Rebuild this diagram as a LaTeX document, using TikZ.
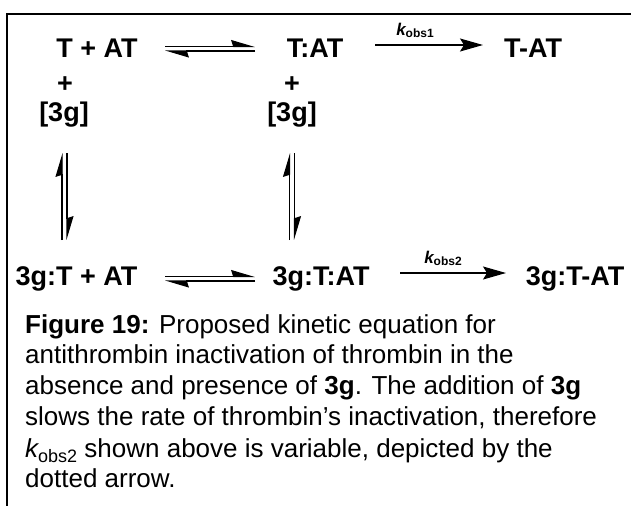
\documentclass[tikz,border=0pt]{standalone}
\usepackage{fontspec}
\setmainfont{Liberation Sans}
\usetikzlibrary{arrows.meta}
\begin{document}
\begin{tikzpicture}[x=1pt,y=-1pt,
  chem/.style={font=\fontsize{27}{32}\selectfont\bfseries, inner sep=0pt, anchor=base},
  capline/.style={font=\fontsize{26}{31}\selectfont, inner sep=0pt, anchor=base west},
  klab/.style={inner sep=0pt, anchor=base},
  eqline/.style={line width=1.1pt, -{Stealth[harpoon,length=22pt,width=13pt,inset=2pt]}},
  fwd/.style={line width=1.1pt, -{Stealth[length=23pt,width=13pt,inset=4pt]}},
  frameline/.style={line width=1.5pt}]
\useasboundingbox (0,0) rectangle (631,506);
\fill[white] (0,0) rectangle (631,506);
% frame
\coordinate (fr1) at (631,14);
\coordinate (fr2) at (7,14);
\coordinate (fr3) at (7,506);
\draw[frameline] (fr1) -- (fr2) -- (fr3);
% row 1
\node[chem] (tpa) at (97,57) {T + AT};
\node[chem] (tat) at (315,57) {T:AT};
\node[chem] (tdat) at (533,57) {T-AT};
\node[chem] (p1) at (65,92) {+};
\node[chem] (g1) at (64,121) {[3g]};
\node[chem] (p2) at (292,92) {+};
\node[chem] (g2) at (292,121) {[3g]};
% row 4
\node[chem] (gtpa) at (76.5,285) {3g:T + AT};
\node[chem] (gtat) at (321,285) {3g:T:AT};
\node[chem] (gtdat) at (575,285) {3g:T-AT};
% labels
\node[klab] (k1) at (415,35) {{\fontsize{17}{17}\selectfont\bfseries\itshape k}\raisebox{-2.5pt}{\fontsize{12}{12}\selectfont\bfseries obs1}};
\node[klab] (k2) at (443,263) {{\fontsize{17}{17}\selectfont\bfseries\itshape k}\raisebox{-2.5pt}{\fontsize{12}{12}\selectfont\bfseries obs2}};
% equilibrium row 1
\coordinate (e1tl) at (165,46.5); \coordinate (e1tr) at (255,46.5);
\coordinate (e1bl) at (165,51);   \coordinate (e1br) at (255,51);
\draw[eqline] (e1tl) -- (e1tr);
\draw[eqline] (e1br) -- (e1bl);
% equilibrium row 4
\coordinate (e4tl) at (165,276.5); \coordinate (e4tr) at (255,276.5);
\coordinate (e4bl) at (165,281);   \coordinate (e4br) at (255,281);
\draw[eqline] (e4tl) -- (e4tr);
\draw[eqline] (e4br) -- (e4bl);
% vertical equilibria
\coordinate (vlat) at (62,153); \coordinate (vlab) at (62,240);
\coordinate (vlbt) at (67,153); \coordinate (vlbb) at (67,240);
\draw[eqline] (vlab) -- (vlat);
\draw[eqline] (vlbt) -- (vlbb);
\coordinate (vmat) at (289.5,153); \coordinate (vmab) at (289.5,240);
\coordinate (vmbt) at (294.5,153); \coordinate (vmbb) at (294.5,240);
\draw[eqline] (vmab) -- (vmat);
\draw[eqline] (vmbt) -- (vmbb);
% forward arrows
\coordinate (f1a) at (375,45); \coordinate (f1b) at (483,45);
\draw[fwd] (f1a) -- (f1b);
\coordinate (f2a) at (400,273); \coordinate (f2b) at (506,273);
\draw[fwd] (f2a) -- (f2b);
% caption
\node[capline] (c1) at (25,333) {{\bfseries Figure 19:} Proposed kinetic equation for};
\node[capline] (c2) at (25,363) {antithrombin inactivation of thrombin in the};
\node[capline] (c3) at (25,394) {absence and presence of {\bfseries 3g}. The addition of {\bfseries 3g}};
\node[capline] (c4) at (25,425) {slows the rate of thrombin’s inactivation, therefore};
\node[capline] (c5) at (25,457) {{\itshape k}\raisebox{-5pt}{\fontsize{18}{18}\selectfont obs2} shown above is variable, depicted by the};
\node[capline] (c6) at (25,487) {dotted arrow.};
\end{tikzpicture}
\end{document}
